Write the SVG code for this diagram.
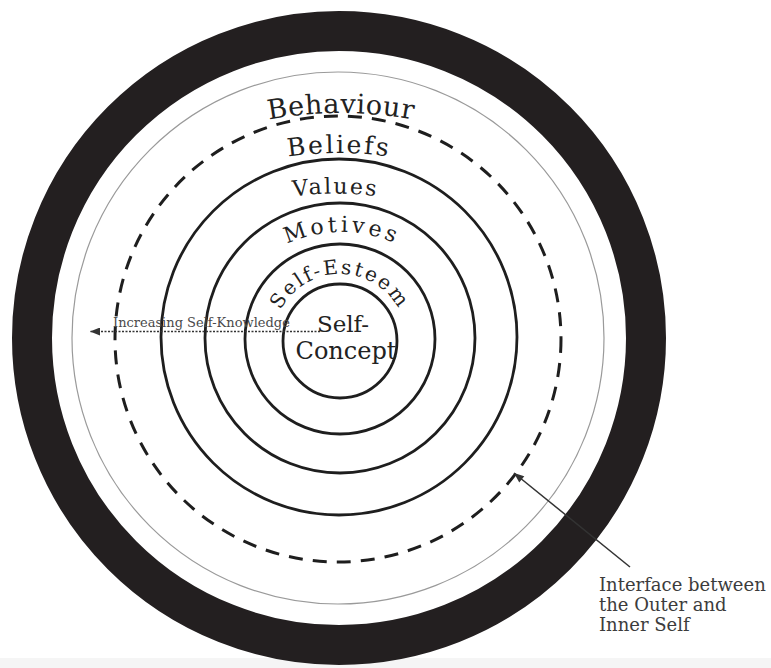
<svg xmlns="http://www.w3.org/2000/svg" width="771" height="668" viewBox="0 0 771 668">
<style>
  .ring{fill:none;stroke:#231f20}
  .solid{fill:none;stroke:#1e1e1e;stroke-width:2.8}
  .lbl{font-family:"DejaVu Serif","Liberation Serif",serif;fill:#222}
  .note{font-family:"DejaVu Serif","Liberation Serif",serif;fill:#3c3c3c;font-size:18px}
  .conn{fill:none;stroke:#333;stroke-width:1.5}
</style>
<defs>
  <marker id="ah" viewBox="0 0 10 8" refX="10" refY="4" markerWidth="11" markerHeight="8" markerUnits="userSpaceOnUse" orient="auto">
    <path d="M0,0 L10,4 L0,8 z" fill="#333"/>
  </marker>
  <path id="pBehav" d="M191,142.2 A400 400 0 0 1 491,142.2"/>
  <path id="pBeliefs" d="M219,174.2 A350 350 0 0 1 459,174.2"/>
  <path id="pValues" d="M235.5,210.7 A300 300 0 0 1 435.5,210.7"/>
  <path id="pMotives" d="M242,278.9 A130 130 0 0 1 442,278.9"/>
  <path id="pEsteem" d="M274.02,352.63 A67 67 0 1 1 405.98,352.63"/>
</defs>
<rect x="0" y="0" width="771" height="668" fill="#fff"/>
<rect x="0" y="658" width="771" height="10" fill="#f5f5f5"/>

<g id="outer-ring"><circle class="ring" cx="339" cy="338" r="307" stroke-width="40"/></g>
<g id="boundary"><circle cx="338" cy="338" r="266" fill="none" stroke="#9a9a9a" stroke-width="1.2"/></g>
<g id="interface"><circle cx="338" cy="339" r="223" fill="none" stroke="#1e1e1e" stroke-width="3" stroke-dasharray="14 10.1"/></g>
<g id="beliefs-ring"><circle class="solid" cx="339" cy="337" r="178"/></g>
<g id="values-ring"><circle class="solid" cx="340" cy="338" r="135"/></g>
<g id="motives-ring"><circle class="solid" cx="340" cy="339" r="95"/></g>
<g id="self-concept-ring"><circle class="solid" cx="340" cy="341" r="57"/></g>

<g id="label-behaviour"><text class="lbl" font-size="27" letter-spacing="0.6"><textPath href="#pBehav" startOffset="50%" text-anchor="middle">Behaviour</textPath></text></g>
<g id="label-beliefs"><text class="lbl" font-size="25" letter-spacing="2.3"><textPath href="#pBeliefs" startOffset="50%" text-anchor="middle">Beliefs</textPath></text></g>
<g id="label-values"><text class="lbl" font-size="22" letter-spacing="2"><textPath href="#pValues" startOffset="50%" text-anchor="middle">Values</textPath></text></g>
<g id="label-motives"><text class="lbl" font-size="22" letter-spacing="3.6"><textPath href="#pMotives" startOffset="50%" text-anchor="middle">Motives</textPath></text></g>
<g id="label-esteem"><text class="lbl" font-size="20" letter-spacing="2.3"><textPath href="#pEsteem" startOffset="50%" text-anchor="middle">Self-Esteem</textPath></text></g>
<g id="label-concept">
  <text class="lbl" font-size="23" x="343" y="332" text-anchor="middle">Self-</text>
  <text class="lbl" font-size="24" x="346" y="359" text-anchor="middle">Concept</text>
</g>

<g id="connectors">
  <line class="conn" x1="320" y1="331.5" x2="90" y2="331.5" stroke-dasharray="2 1.5" stroke-width="1.6" marker-end="url(#ah)"/>
  <line class="conn" x1="630" y1="567" x2="514" y2="473" marker-end="url(#ah)"/>
</g>
<g id="label-knowledge"><text class="lbl" x="113" y="327" font-size="13" style="fill:#4a4a4a">Increasing Self-Knowledge</text></g>
<g id="label-interface">
  <text class="note" x="599" y="591">Interface between</text>
  <text class="note" x="599" y="611">the Outer and</text>
  <text class="note" x="599" y="631">Inner Self</text>
</g>
</svg>
